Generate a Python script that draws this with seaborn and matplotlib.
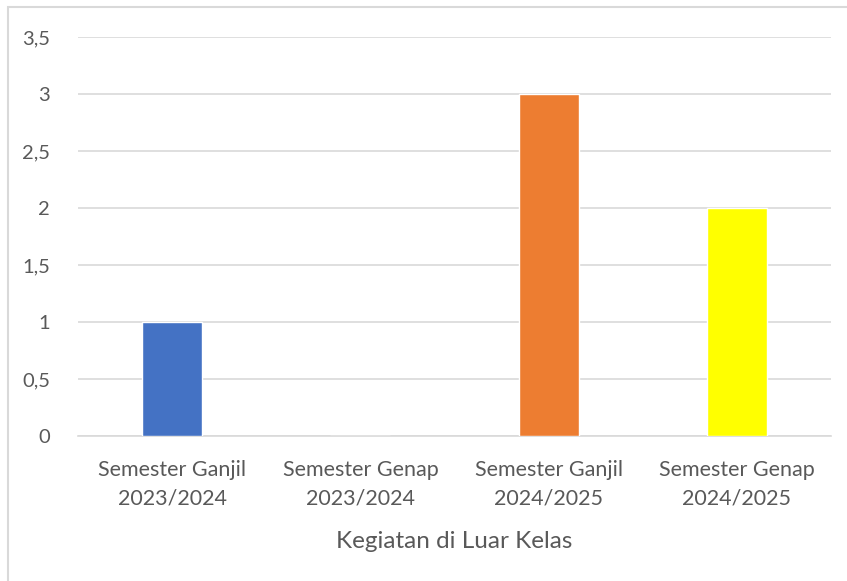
import matplotlib
matplotlib.use("Agg")
import matplotlib.pyplot as plt
import seaborn as sns
import pandas as pd
from matplotlib.patches import Rectangle

categories = ["Semester Ganjil\n2023/2024", "Semester Genap\n2023/2024",
              "Semester Ganjil\n2024/2025", "Semester Genap\n2024/2025"]
values = [1, 0, 3, 2]
colors = ["#4472C4", "#A5A5A5", "#ED7D31", "#FFFF00"]
yticks = [0, 0.5, 1, 1.5, 2, 2.5, 3, 3.5]
ytick_labels = ["0", "0,5", "1", "1,5", "2", "2,5", "3", "3,5"]
xlabel = "Kegiatan di Luar Kelas"

sns.set_style("white")
plt.rcParams['font.family'] = ['Lato', 'DejaVu Sans']

df = pd.DataFrame({"cat": categories, "val": values})

W, H = 847, 581
fig = plt.figure(figsize=(W / 100, H / 100), dpi=100)
ax = fig.add_axes([78 / W, 1 - 436 / H, (831 - 78) / W, (436 - 37) / H])

sns.barplot(data=df, x="cat", y="val", hue="cat", palette=colors,
            width=0.32, legend=False, ax=ax, saturation=1, zorder=3)

ax.set_ylim(0, 3.5)
ax.set_xlim(-0.5, 3.5)
ax.set_yticks(yticks)
ax.set_yticklabels(ytick_labels)
ax.yaxis.grid(True, color="#D9D9D9", linewidth=1.2, zorder=0)
ax.set_axisbelow(True)
for s in ["top", "right", "left"]:
    ax.spines[s].set_visible(False)
ax.spines["bottom"].set_color("#D9D9D9")
ax.spines["bottom"].set_linewidth(1.2)
ax.tick_params(axis="both", length=0, colors="#595959")
ax.tick_params(axis="y", pad=20, labelsize=14.5)
ax.tick_params(axis="x", pad=17, labelsize=15.5)
for lab in ax.get_xticklabels():
    lab.set_linespacing(1.55)
ax.set_ylabel("")
ax.set_xlabel(xlabel, color="#595959", fontsize=17.5, labelpad=16)

fig.patches.append(Rectangle((8 / W, -0.05), 1.1, 1 - 7 / H + 0.05,
                             transform=fig.transFigure, fill=False,
                             edgecolor="#D9D9D9", linewidth=1.5))

fig.savefig("out.png", dpi=100, facecolor="white")
